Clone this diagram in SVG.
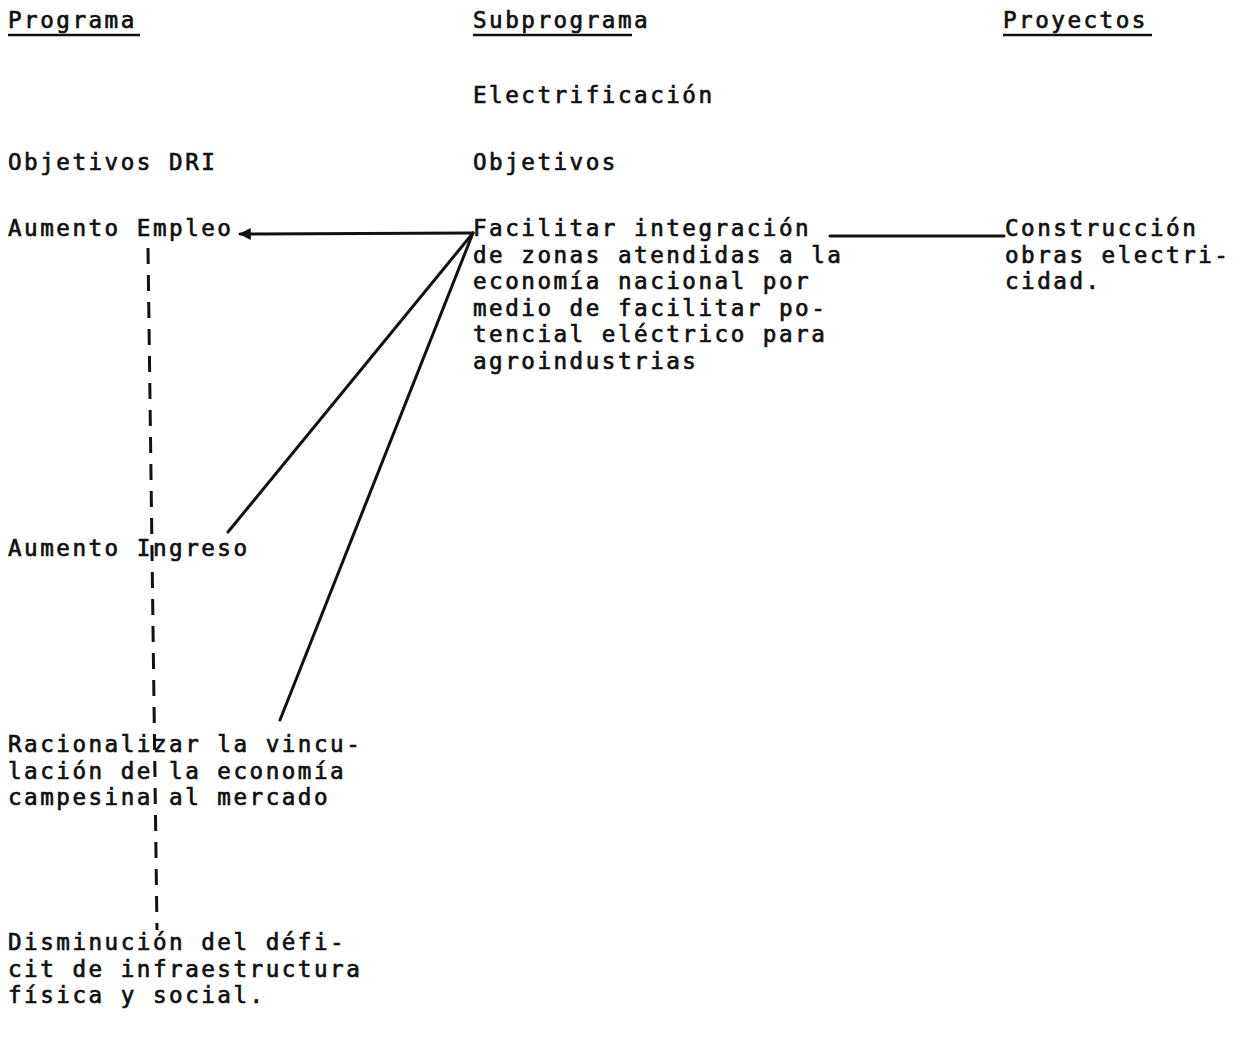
<svg xmlns="http://www.w3.org/2000/svg" width="1256" height="1047" viewBox="0 0 1256 1047">
  <defs>
    <style>
      text { font-family: "DejaVu Sans Mono", "Liberation Mono", monospace; font-size: 22.6px; letter-spacing: 2.5px; fill: #111; stroke: #111; stroke-width: 0.7; }
      .rule { stroke: #111; stroke-width: 2.5; fill: none; }
      .link { stroke: #111; stroke-width: 3; fill: none; stroke-linecap: round; }
      .dash { stroke: #111; stroke-width: 3; fill: none; stroke-dasharray: 16 11; }
    </style>
    <marker id="head" viewBox="0 0 10 10" refX="9" refY="5" markerWidth="4" markerHeight="4" orient="auto-start-reverse">
      <path d="M0,0 L10,5 L0,10 z" fill="#111"/>
    </marker>
  </defs>
  <rect width="1256" height="1047" fill="#fff"/>

  <!-- column headings -->
  <g id="heading-programa">
    <text x="8" y="28">Programa</text>
    <line class="rule" x1="8" y1="35" x2="140" y2="35"/>
  </g>
  <g id="heading-subprograma">
    <text x="473" y="28">Subprograma</text>
    <line class="rule" x1="473" y1="35" x2="632" y2="35"/>
  </g>
  <g id="heading-proyectos">
    <text x="1003" y="28">Proyectos</text>
    <line class="rule" x1="1003" y1="35" x2="1152" y2="35"/>
  </g>

  <g id="subprograma-name"><text x="473" y="103">Electrificación</text></g>
  <g id="objetivos-dri"><text x="8" y="170">Objetivos DRI</text></g>
  <g id="objetivos"><text x="473" y="170">Objetivos</text></g>

  <!-- connectors -->
  <g id="connectors">
    <path class="dash" d="M148,248 L157,930"/>
    <line class="link" x1="473" y1="233" x2="240" y2="234" marker-end="url(#head)"/>
    <line class="link" x1="473" y1="233" x2="228" y2="532"/>
    <line class="link" x1="473" y1="233" x2="280" y2="720"/>
    <line class="link" x1="830" y1="236" x2="1004" y2="236"/>
  </g>

  <!-- DRI objectives -->
  <g id="aumento-empleo"><text x="8" y="236">Aumento Empleo</text></g>
  <g id="aumento-ingreso"><text x="8" y="556">Aumento Ingreso</text></g>
  <g id="racionalizar">
    <text x="8" y="752">Racionalizar la vincu-<tspan x="8" dy="26.5">lación de la economía</tspan><tspan x="8" dy="26.5">campesina al mercado</tspan></text>
  </g>
  <g id="disminucion">
    <text x="8" y="950">Disminución del défi-<tspan x="8" dy="26.5">cit de infraestructura</tspan><tspan x="8" dy="26.5">física y social.</tspan></text>
  </g>

  <!-- subprogram objective -->
  <g id="facilitar">
    <text x="473" y="236">Facilitar integración<tspan x="473" dy="26.5">de zonas atendidas a la</tspan><tspan x="473" dy="26.5">economía nacional por</tspan><tspan x="473" dy="26.5">medio de facilitar po-</tspan><tspan x="473" dy="26.5">tencial eléctrico para</tspan><tspan x="473" dy="26.5">agroindustrias</tspan></text>
  </g>

  <!-- project -->
  <g id="construccion">
    <text x="1005" y="236">Construcción<tspan x="1005" dy="26.5">obras electri-</tspan><tspan x="1005" dy="26.5">cidad.</tspan></text>
  </g>
</svg>
